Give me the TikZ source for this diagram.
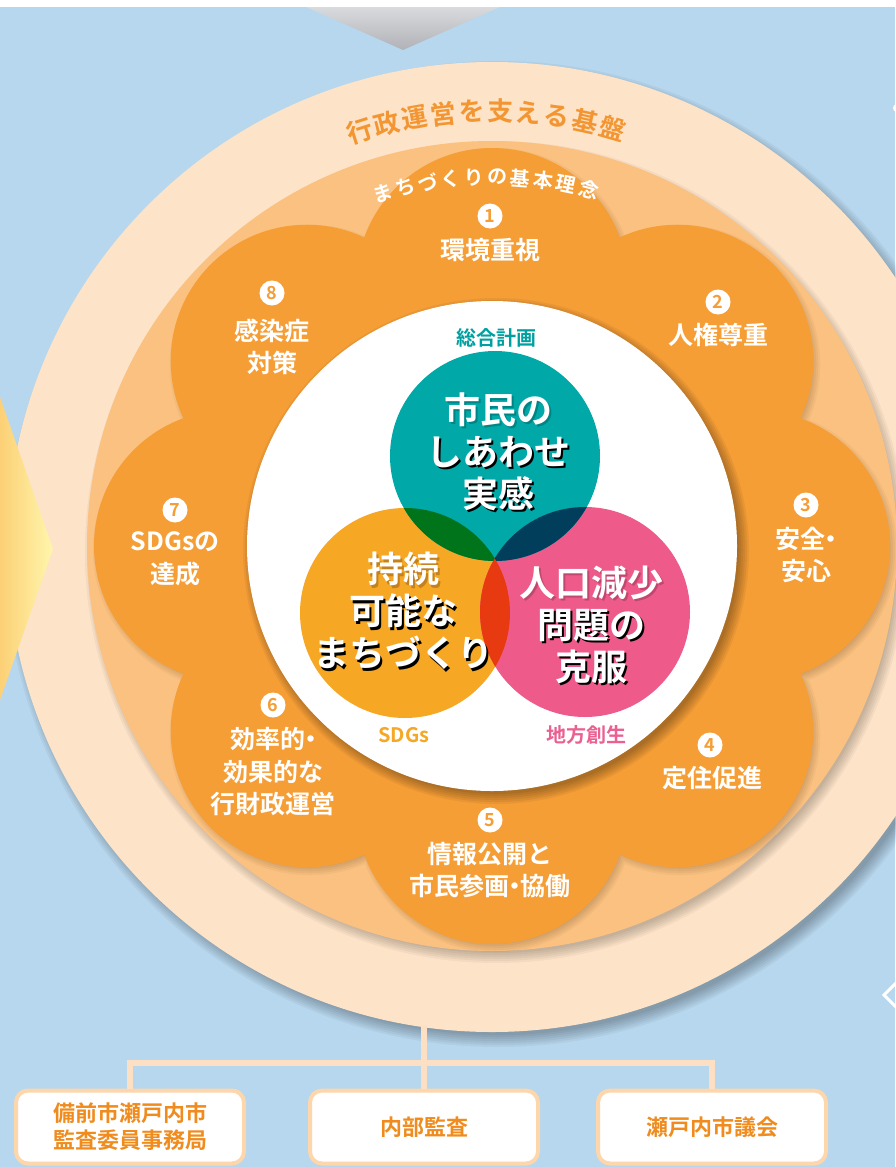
\documentclass[tikz,border=0pt]{standalone}
\usepackage{fontspec}
\setmainfont{Noto Sans CJK JP}[BoldFont={Noto Sans CJK JP Bold}]
\newcommand{\mdt}{\kern-0.28em・\kern-0.3em}
\newcommand{\shc}{black}
\newcommand{\shl}[1]{\makebox[0pt][l]{\kern2pt\raisebox{-2.5pt}{\color{\shc}#1}}#1}
\definecolor{bg}{RGB}{183,215,238}
\definecolor{peachL}{RGB}{253,227,200}
\definecolor{peachM}{RGB}{251,193,128}
\definecolor{orangeM}{RGB}{246,158,54}
\definecolor{tealC}{RGB}{0,168,168}
\definecolor{venO}{RGB}{246,167,35}
\definecolor{pinkC}{RGB}{238,90,138}
\definecolor{greenO}{RGB}{0,116,26}
\definecolor{navyO}{RGB}{0,62,92}
\definecolor{redO}{RGB}{232,58,16}
\definecolor{txtO}{RGB}{240,140,30}
\definecolor{curveO}{RGB}{243,150,50}
\definecolor{boxline}{RGB}{253,214,172}
\definecolor{barC}{RGB}{253,224,196}
\definecolor{tealT}{RGB}{0,160,160}
\definecolor{pinkT}{RGB}{235,95,145}
\definecolor{grayT}{RGB}{216,218,221}
\definecolor{grayB}{RGB}{176,178,183}
\definecolor{yelL}{RGB}{252,208,118}
\definecolor{yelR}{RGB}{255,246,172}
\definecolor{shTeal}{RGB}{0,132,132}
\definecolor{shOr}{RGB}{196,130,30}
\definecolor{shPk}{RGB}{192,72,110}
\begin{document}
\begin{tikzpicture}[x=1pt,y=-1pt,
  lbl/.style={text=white, font=\bfseries\fontsize{25}{32.5}\selectfont, align=center, inner sep=0pt},
  numd/.style={circle, fill=white, inner sep=0pt, minimum size=25pt, text=orangeM, font=\bfseries\fontsize{18}{18}\selectfont},
  vt/.style={text=white, font=\bfseries\fontsize{36}{42}\selectfont, align=center, inner sep=0pt},
  small/.style={font=\bfseries\fontsize{20}{20}\selectfont, inner sep=0pt},
  box/.style={draw=boxline, line width=4pt, fill=white, rounded corners=12pt, minimum width=228pt, minimum height=73pt, align=center, text=txtO, font=\bfseries\fontsize{22}{27}\selectfont, inner sep=0pt},
  bar/.style={draw=barC, line width=6pt}
]
\useasboundingbox (0,0) rectangle (895,1167);
% background
\fill[bg] (0,0) rectangle (895,1167);
\fill[white] (0,0) rectangle (895,7);
\shade[top color=grayT, bottom color=grayB] (306,7) -- (500,7) -- (403,50) -- cycle;

% outer circle shadow and circle
\foreach \k [evaluate=\k as \r using 493-2*\k] in {0,...,6}
  {\fill[black, opacity=0.045] (498,554) circle (\r pt);}
\fill[peachL] (492,547) circle (485pt);

% left yellow arrow
\shade[left color=yelL, right color=yelR] (0,397) -- (53,549) -- (0,700) -- cycle;

% right edge bits
\fill[white] (897,108) circle (4pt);
\draw[white, line width=3pt, line join=miter] (896,983) -- (884,995) -- (896,1007);

% medium ring shadow and ring
\foreach \k [evaluate=\k as \r using 411-2*\k] in {0,...,5}
  {\fill[black, opacity=0.04] (496,552) circle (\r pt);}
\fill[peachM] (492,546) circle (405pt);

% flower shadow
\foreach \k [evaluate=\k as \r using 140-2*\k] in {0,...,4}
  {\fill[black, opacity=0.035] foreach \a in {0,45,...,315} {({495+262*cos(\a)},{550+262*sin(\a)}) circle (\r pt)};}
% flower
\fill[orangeM] foreach \a in {0,45,...,315} {({492+262*cos(\a)},{546+262*sin(\a)}) circle (136pt)} (492,546) circle (300pt);

% white circle shadow and circle
\foreach \k [evaluate=\k as \r using 253-2*\k] in {0,...,5}
  {\fill[black, opacity=0.055] (496,551) circle (\r pt);}
\fill[white] (492,546) circle (245pt);

% venn circles
\fill[venO] (405,613) circle (105pt);
\fill[pinkC] (585,612) circle (105pt);
\fill[tealC] (495,456) circle (105pt);
\begin{scope}
  \clip (495,456) circle (105pt);
  \fill[greenO] (405,613) circle (105pt);
\end{scope}
\begin{scope}
  \clip (495,456) circle (105pt);
  \fill[navyO] (585,612) circle (105pt);
\end{scope}
\begin{scope}
  \clip (405,613) circle (105pt);
  \fill[redO] (585,612) circle (105pt);
\end{scope}

% venn texts with shadow
\node[vt] (t1) at (498,453) {\renewcommand{\shc}{shTeal}\shl{市民の}\\\shl{しあわせ}\\\shl{実感}};
\node[vt] (t2) at (403,612) {\renewcommand{\shc}{shOr}\shl{持続}\\\shl{可能な}\\\shl{まちづくり}};
\node[vt] (t3) at (591,626) {\renewcommand{\shc}{shPk}\shl{人口減少}\\\shl{問題の}\\\shl{克服}};

\node[small, text=tealT] (k1) at (496,338) {総合計画};
\node[small, text=venO] (k2) at (404,735) {SDGs};
\node[small, text=pinkT] (k3) at (586,735) {地方創生};

% flower labels
\node[numd] (n1) at (490,216) {1};
\node[lbl] (l1) at (490,250) {環境重視};
\node[numd] (n2) at (718,302) {2};
\node[lbl] (l2) at (718,335) {人権尊重};
\node[numd] (n3) at (806,505) {3};
\node[lbl] (l3) at (806,555) {安全\mdt\\安心};
\node[numd] (n4) at (710,745) {4};
\node[lbl] (l4) at (712,778) {定住促進};
\node[numd] (n5) at (490,820) {5};
\node[lbl] (l5) at (490,870) {情報公開と\\市民参画\mdt 協働};
\node[numd] (n6) at (273,705) {6};
\node[lbl] (l6) at (273,772) {効率的\mdt\\効果的な\\行財政運営};
\node[numd] (n7) at (175,510) {7};
\node[lbl] (l7) at (175,559) {SDGsの\\達成};
\node[numd] (n8) at (272,293) {8};
\node[lbl] (l8) at (272,347) {感染症\\対策};

% curved texts
\foreach \c [count=\i, evaluate=\i as \t using -0.8+(\i-5.5)*3.75] in {行,政,運,営,を,支,え,る,基,盤}
  {\node[text=curveO, font=\bfseries\fontsize{26}{26}\selectfont, inner sep=0pt, rotate=-\t] (ca\i) at ({492+436*sin(\t)},{547-436*cos(\t)}) {\c};}
\foreach \c [count=\i, evaluate=\i as \t using -1+(\i-5.5)*3.6] in {ま,ち,づ,く,り,の,基,本,理,念}
  {\node[text=white, font=\bfseries\fontsize{20}{20}\selectfont, inner sep=0pt, rotate=-\t] (cb\i) at ({492+369*sin(\t)},{546-369*cos(\t)}) {\c};}

% bottom boxes
\node[box] (b1) at (130,1127) {備前市瀬戸内市\\監査委員事務局};
\node[box] (b2) at (424,1127) {内部監査};
\node[box] (b3) at (712,1127) {瀬戸内市議会};
\coordinate (cbot) at (424,1025);
\draw[bar] (cbot) -- (b2.north);
\draw[bar] (b1.north) -- ++(0,-26) -| (b3.north);
\end{tikzpicture}
\end{document}
